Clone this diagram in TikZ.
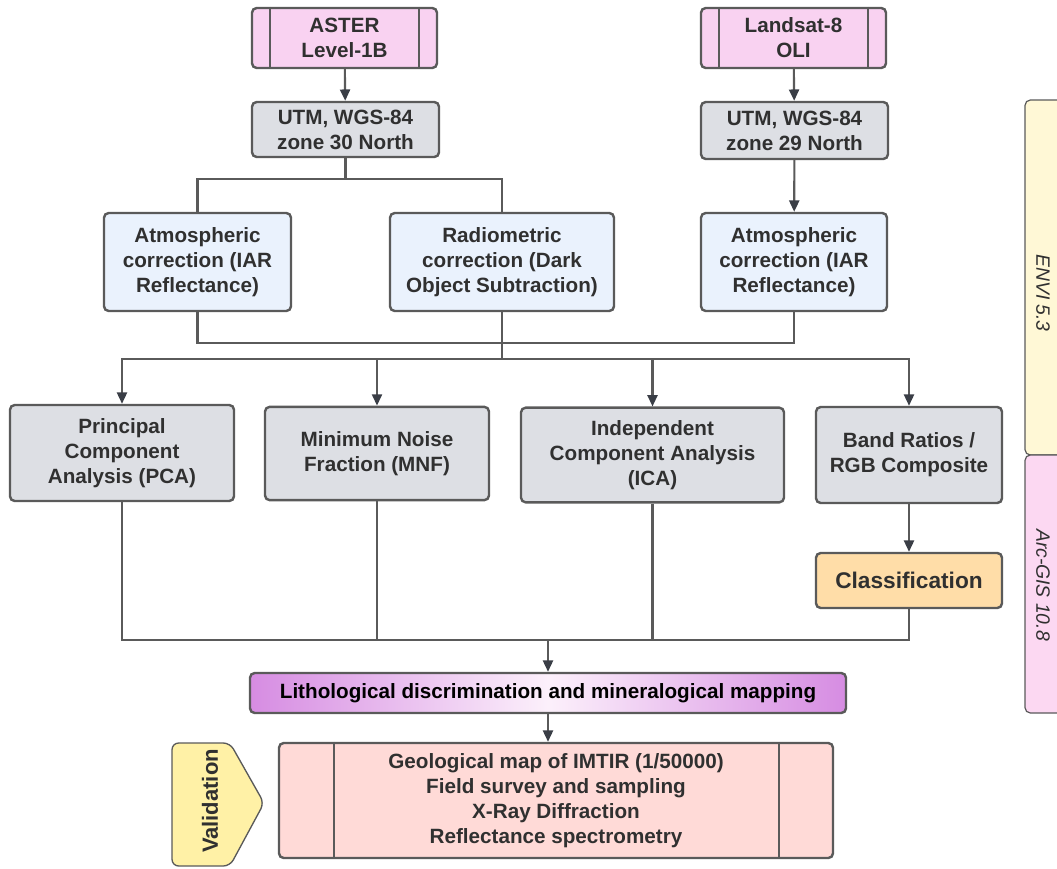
\documentclass[tikz,border=0pt]{standalone}
\usepackage{fontspec}
\setmainfont{Liberation Sans}
\usetikzlibrary{arrows.meta,calc}

\definecolor{lineC}{HTML}{5A5A5A}
\definecolor{arrowC}{HTML}{3A3E46}
\definecolor{textC}{HTML}{303030}
\definecolor{srcC}{HTML}{F9D2F1}
\definecolor{grayC}{HTML}{DDDFE4}
\definecolor{blueC}{HTML}{EAF2FD}
\definecolor{orangeC}{HTML}{FFDDA8}
\definecolor{lithoC}{HTML}{D68CE2}
\definecolor{lithoM}{HTML}{FCF0FB}
\definecolor{valC}{HTML}{FFDAD7}
\definecolor{tagC}{HTML}{FFF1A6}
\definecolor{enviC}{HTML}{FFF8D6}
\definecolor{arcC}{HTML}{FCD8F2}

\tikzset{
  box/.style={draw=lineC, line width=1.8pt, rounded corners=3.5pt, align=center,
    inner sep=0pt, text=textC, font=\fontsize{15.5}{18.75}\selectfont\bfseries},
  srcbox/.style={box, fill=srcC, minimum width=138.75pt, minimum height=45pt},
  projbox/.style={box, fill=grayC, minimum width=140.25pt, minimum height=41.25pt},
  corrbox/.style={box, fill=blueC, minimum width=140.25pt, minimum height=73.5pt},
  procbox/.style={box, fill=grayC, minimum width=139.5pt, minimum height=72pt},
  link/.style={draw=lineC, line width=1.6pt},
  arr/.style={link, -{Triangle[length=8.5pt, width=7.5pt, color=arrowC]}},
  sidebar/.style={draw=lineC, line width=0.9pt, rounded corners=4pt},
  sidelabel/.style={rotate=-90, text=textC, font=\fontsize{14.5}{16}\selectfont\itshape}
}

\begin{document}
\begin{tikzpicture}[x=0.75pt, y=-0.75pt]
  \useasboundingbox (0,0) rectangle (1057,868);

  % software bars on the right
  \draw[sidebar, fill=enviC] (1025,100) rectangle (1075,455);
  \draw[sidebar, fill=arcC] (1025,455) rectangle (1075,713);
  \node[sidelabel] (envi) at (1043,293) {ENVI 5.3};
  \node[sidelabel] (arcgis) at (1043,585) {Arc-GIS 10.8};

  % source images
  \node[srcbox] (aster) at (344.5,38) {ASTER\\Level-1B};
  \node[srcbox] (landsat) at (793.5,38) {Landsat-8\\OLI};
  \foreach \n in {aster,landsat} {
    \draw[link] ($(\n.north west)+(19,0)$) -- ($(\n.south west)+(19,0)$);
    \draw[link] ($(\n.north east)+(-19,0)$) -- ($(\n.south east)+(-19,0)$);
  }

  % projection
  \node[projbox] (utmA) at (345.5,129.5) {UTM, WGS-84\\zone 30 North};
  \node[projbox, minimum height=42.75pt] (utmL) at (794.5,130.5) {UTM, WGS-84\\zone 29 North};

  % corrections
  \node[corrbox] (atmA) at (197.5,262) {Atmospheric\\correction (IAR\\Reflectance)};
  \node[corrbox, minimum width=168pt] (radio) at (502,262) {Radiometric\\correction (Dark\\Object Subtraction)};
  \node[corrbox, minimum width=139.5pt] (atmL) at (794,262) {Atmospheric\\correction (IAR\\Reflectance)};

  % processing
  \node[procbox, minimum width=168pt] (pca) at (122,453) {Principal\\Component\\Analysis (PCA)};
  \node[procbox, minimum width=168pt, minimum height=70pt] (mnf) at (377,453.5) {Minimum Noise\\Fraction (MNF)};
  \node[procbox, minimum width=197.25pt, minimum height=71pt] (ica) at (652.5,455) {Independent\\Component Analysis\\(ICA)};
  \node[procbox] (band) at (909,455) {Band Ratios /\\RGB Composite};
  \node[box, fill=orangeC, minimum width=139.5pt, minimum height=41.25pt,
    font=\fontsize{17}{20}\selectfont\bfseries] (classif) at (909,580.5) {Classification};

  % result
  \node[box, left color=lithoC, right color=lithoC, middle color=lithoM,
    minimum width=447pt, minimum height=30pt, text=black] (litho) at (548,693)
    {Lithological discrimination and mineralogical mapping};

  % validation
  \node[box, fill=valC, minimum width=415.5pt, minimum height=86.25pt] (valid) at (556,800.5)
    {Geological map of IMTIR (1/50000)\\Field survey and sampling\\X-Ray Diffraction\\Reflectance spectrometry};
  \draw[link] ($(valid.north west)+(56,0)$) -- ($(valid.south west)+(56,0)$);
  \draw[link] ($(valid.north east)+(-55,0)$) -- ($(valid.south east)+(-55,0)$);

  \draw[draw=lineC, line width=1pt, fill=tagC, rounded corners=5pt]
    (172,743) -- (230,743) -- (264,803) -- (230,866) -- (172,866) -- cycle;
  \node[rotate=90, text=textC, font=\fontsize{16.5}{18}\selectfont\bfseries] (valtag) at (210,801) {Validation};

  % connectors
  \draw[arr] (aster) -- (utmA);
  \draw[arr] (landsat) -- (utmL);
  \draw[arr] (utmL) -- (atmL);
  \draw[link] (utmA.south) -- ++(0,21) coordinate (forkA);
  \draw[link] (atmA.north) |- (forkA) -| (radio.north);

  \draw[link] (atmA.south) |- ($(atmL.south)+(0,31)$) -- (atmL.south);
  \draw[link] (radio.south) -- ++(0,47) coordinate (hub);
  \foreach \n in {pca,mnf,ica,band}
    \draw[arr] (hub) -| (\n.north);

  \draw[arr] (band) -- (classif);

  \coordinate (merge) at (548,640);
  \foreach \n in {pca,mnf,ica,classif}
    \draw[link] (\n.south) |- (merge);
  \draw[arr] (merge) -- (litho.north);
  \draw[arr] (litho.south) -- (litho.south |- valid.north);
\end{tikzpicture}
\end{document}
